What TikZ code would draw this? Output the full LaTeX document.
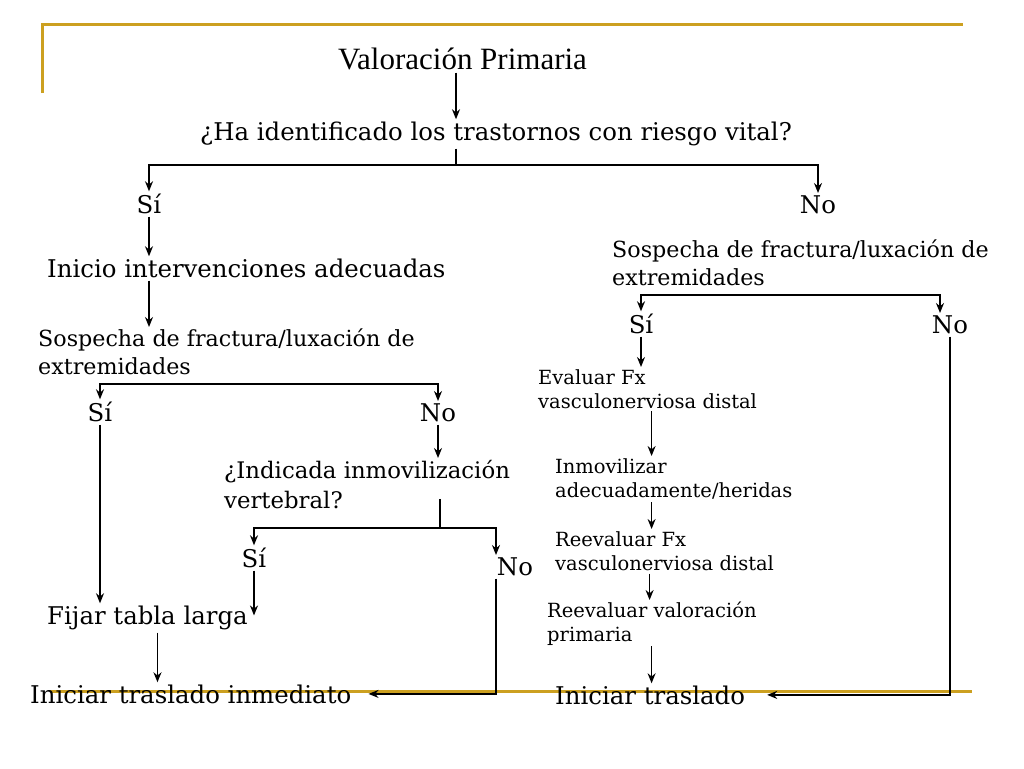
\documentclass[tikz,border=0pt]{standalone}
\usepackage{fontspec}
\setmainfont{DejaVu Serif}
\newfontfamily\titlefont{Liberation Serif}
\usetikzlibrary{positioning, arrows.meta}
\definecolor{slideGold}{RGB}{204,160,32}

\begin{document}
\begin{tikzpicture}[x=1pt, y=-1pt,
    % ==== text styles ====
    lbl/.style={inner sep=0pt, anchor=base west, font=\fontsize{24.4}{30}\selectfont},
    lblC/.style={lbl, anchor=base},
    lblM/.style={inner sep=0pt, anchor=north west, align=left, font=\fontsize{22.2}{28}\selectfont},
    lblS/.style={inner sep=0pt, anchor=north west, align=left, font=\fontsize{19.5}{24}\selectfont},
    % ==== connector styles ====
    ln/.style={line width=1.5pt},
    arr/.style={ln, -{Stealth[length=10pt, width=8pt]}, shorten >=2pt},
    arrN/.style={arr, shorten <=3pt},
]

\useasboundingbox (0,0) rectangle (1024,768);

% ==================== 1. slide frame ====================
\draw[slideGold, line width=3pt] (42,93) -- (42,25) -- (963,25);
\draw[slideGold, line width=3pt] (50,691) -- (972,691);

% ==================== 2. top of the tree ====================
\node[inner sep=0pt, anchor=base west, font=\titlefont\fontsize{31}{36}\selectfont] (valor) at (338,69) {Valoración Primaria};
\node[lbl] (ident) at (200,140) {¿Ha identificado los trastornos con riesgo vital?};
\node[lblC] (si1) at (149,213) {Sí};
\node[lblC] (no1) at (818,213) {No};

% junction points of the branches
\coordinate (j1) at (456,165);
\coordinate (j2) at (270,384);
\coordinate (j3) at (440,528);
\coordinate (j4) at (790,295);

% ==================== 3. left branch (Sí) ====================
\node[lbl] (inicio) at (47,277) {Inicio intervenciones adecuadas};
\node[lblM] (sosL) at (38,329) {Sospecha de fractura/luxación de\\extremidades};
\node[lblC] (siL) at (100,421) {Sí};
\node[lblC] (noL) at (438,421) {No};
\node[lblM, font=\fontsize{22.8}{30}\selectfont] (indic) at (224,460) {¿Indicada inmovilización\\vertebral?};
\node[lblC] (siV) at (254,567) {Sí};
\node[lblC] (noV) at (515,575) {No};
\node[lbl] (fijar) at (47,624) {Fijar tabla larga};
\node[lbl] (inmed) at (30,703) {Iniciar traslado inmediato};

% ==================== 4. right branch (No) ====================
\node[lblM] (sosR) at (612,240) {Sospecha de fractura/luxación de\\extremidades};
\node[lblC] (siR) at (641,333) {Sí};
\node[lblC] (noR) at (950,333) {No};
\node[lblS] (eval) at (538,369) {Evaluar Fx\\vasculonerviosa distal};
\node[lblS] (inmov) at (555,458) {Inmovilizar\\adecuadamente/heridas};
\node[lblS] (reev1) at (555,531) {Reevaluar Fx\\vasculonerviosa distal};
\node[lblS] (reev2) at (547,602) {Reevaluar valoración\\primaria};
\node[lbl] (trasl) at (555,704) {Iniciar traslado};

% ==================== 5. connectors ====================
\draw[arrN] (valor.south -| j1) -- (ident.north -| j1);
\draw[ln] ([yshift=-3pt]ident.south -| j1) -- (j1);
\draw[arr] (j1) -| (si1.north);
\draw[arr] (j1) -| (no1.north);

\draw[arrN] (si1.south) -- (si1.south |- inicio.north);
\draw[arrN] (inicio.south -| si1) -- (sosL.north -| si1);
\draw[arr] (j2) -| (siL.north);
\draw[arr] (j2) -| (noL.north);
\draw[arrN] (siL.south) -- (siL.south |- fijar.north);
\draw[arrN] (noL.south) -- (noL.south |- indic.north);
\draw[ln] ([yshift=10pt]indic.south -| j3) -- (j3);
\draw[arr] (j3) -| (siV.north);
\draw[arr] (j3) -| ([xshift=-19pt]noV.north);
\draw[arrN] (siV.south) -- (siV.south |- fijar.center);
\draw[arrN] ([xshift=10pt]fijar.south) -- ([xshift=10pt]fijar.south |- inmed.north);
\draw[arrN] ([xshift=-19pt]noV.south) |- ([xshift=15pt]inmed.east);

\draw[arr] (j4) -| (siR.north);
\draw[arr] (j4) -| ([xshift=-10pt]noR.north);
\draw[arrN] (siR.south) -- (siR.south |- eval.north);
\draw[arrN] ([xshift=4pt]eval.south) -- ([xshift=4pt]eval.south |- inmov.north);
\draw[arrN] ([xshift=4pt]eval.south |- inmov.south) -- ([xshift=4pt]eval.south |- reev1.north);
\draw[arrN] ([xshift=2pt]eval.south |- reev1.south) -- ([xshift=2pt]eval.south |- reev2.north);
\draw[arr] ([xshift=4pt]eval.south |- reev2.south) -- ([xshift=4pt]eval.south |- trasl.north);
\draw[arrN] (noR.south) |- ([xshift=20pt]trasl.east);

\end{tikzpicture}
\end{document}
